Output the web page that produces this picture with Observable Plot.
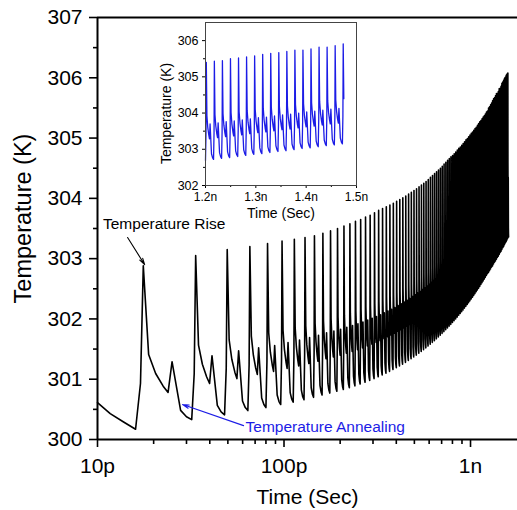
<!DOCTYPE html>
<html>
<head>
<meta charset="utf-8">
<script src="https://cdn.jsdelivr.net/npm/d3@7"></script>
<script src="https://cdn.jsdelivr.net/npm/@observablehq/plot@0.6"></script>
<style>
  html, body { margin: 0; padding: 0; background: #fff; }
  #chart { position: relative; width: 517px; height: 510px; overflow: hidden; font-family: 'Liberation Sans', Arial, sans-serif; }
  #inset { position: absolute; left: 150px; top: 10px; }
</style>
</head>
<body>
<div id="chart"><div id="main"></div><div id="inset"></div></div>
<script>
// ---- Data (times in ps, temperatures in K) ----
// lead-in decay before first pulse
const leadTimePs = [10, 11.7, 13.8];
const leadTemp = [300.61, 300.43, 300.29];

// start time of each heating cycle (ps)
const cycleStartPs = [16,32,48,64,80,96,112,128,144,160,176,192,208,224,240,256,272,288,304,320,336,352,368,384,400,416,432,448,464,480,496,512,528,544,560,576,592,608,624,640,656,672,688,704,720,736,752,768,784,800,816,832,848,864,880,896,912,928,944,960,976,992,1008,1024,1040,1056,1072,1088,1104,1120,1136,1152,1168,1184,1200,1216,1232,1248,1264,1280,1296,1312,1328,1344,1360,1376,1392,1408,1424,1440,1456,1472,1488,1504,1520,1536,1552,1568,1584];

// trough (start of cycle) temperature
const cycleLow = [300.17,300.33,300.41,300.48,300.53,300.58,300.62,300.66,300.70,300.74,300.77,300.80,300.83,300.86,300.89,300.92,300.95,300.98,301.01,301.04,301.07,301.10,301.13,301.16,301.19,301.22,301.25,301.28,301.31,301.34,301.37,301.40,301.43,301.46,301.49,301.52,301.55,301.58,301.61,301.64,301.67,301.70,301.73,301.76,301.79,301.82,301.85,301.88,301.91,301.94,301.97,302.00,302.03,302.06,302.09,302.12,302.15,302.18,302.21,302.24,302.27,302.30,302.33,302.36,302.39,302.42,302.45,302.48,302.51,302.54,302.57,302.60,302.63,302.66,302.69,302.72,302.75,302.77,302.80,302.83,302.86,302.88,302.91,302.94,302.96,302.99,303.02,303.04,303.07,303.10,303.12,303.15,303.18,303.20,303.23,303.26,303.28,303.31,303.34];
const finalTimePs = 1600;
const finalTemp = 303.36;

// main (temperature rise) peak of each cycle
const cycleBig = [302.88,303.05,303.15,303.20,303.25,303.29,303.32,303.35,303.38,303.42,303.46,303.50,303.54,303.58,303.62,303.65,303.69,303.72,303.76,303.80,303.83,303.86,303.89,303.92,303.95,303.98,304.01,304.04,304.07,304.10,304.13,304.16,304.19,304.22,304.25,304.28,304.31,304.35,304.38,304.41,304.44,304.47,304.50,304.53,304.57,304.60,304.63,304.66,304.69,304.71,304.74,304.77,304.80,304.83,304.85,304.88,304.91,304.94,304.97,304.99,305.02,305.05,305.08,305.10,305.13,305.16,305.18,305.21,305.24,305.27,305.29,305.32,305.35,305.37,305.40,305.43,305.45,305.50,305.52,305.55,305.58,305.62,305.65,305.67,305.70,305.74,305.74,305.77,305.82,305.82,305.86,305.91,305.93,305.96,305.99,306.01,306.04,306.06,306.08];

// dip before the secondary bump
const cycleMid = [300.78,300.93,301.01,301.08,301.13,301.18,301.22,301.26,301.30,301.34,301.37,301.40,301.43,301.46,301.49,301.52,301.55,301.58,301.61,301.64,301.67,301.70,301.73,301.76,301.79,301.82,301.85,301.88,301.91,301.94,301.97,302.00,302.03,302.06,302.09,302.12,302.15,302.18,302.21,302.24,302.27,302.30,302.33,302.36,302.39,302.42,302.45,302.48,302.51,302.54,302.57,302.60,302.63,302.66,302.69,302.72,302.75,302.78,302.81,302.84,302.87,302.90,302.93,302.96,302.99,303.02,303.05,303.08,303.11,303.14,303.17,303.20,303.23,303.26,303.29,303.32,303.35,303.37,303.40,303.43,303.46,303.48,303.51,303.54,303.56,303.59,303.62,303.64,303.67,303.70,303.72,303.75,303.78,303.80,303.83,303.86,303.88,303.91,303.94];

// secondary bump of each cycle
const cycleSmall = [301.29,301.39,301.47,301.52,301.56,301.61,301.65,301.69,301.73,301.77,301.80,301.83,301.86,301.89,301.92,301.95,301.98,302.01,302.04,302.07,302.10,302.13,302.16,302.19,302.22,302.25,302.28,302.31,302.34,302.37,302.40,302.43,302.46,302.49,302.52,302.55,302.58,302.61,302.64,302.67,302.70,302.73,302.76,302.79,302.82,302.85,302.88,302.91,302.94,302.97,303.00,303.03,303.06,303.09,303.12,303.15,303.18,303.21,303.24,303.27,303.29,303.32,303.34,303.37,303.40,303.43,303.46,303.49,303.52,303.55,303.58,303.61,303.64,303.67,303.70,303.73,303.76,303.78,303.81,303.84,303.87,303.89,303.92,303.95,303.97,304.00,304.03,304.05,304.08,304.11,304.13,304.16,304.19,304.21,304.24,304.27,304.29,304.32,304.35];

// pulse shape read from the first cycles: offset (ps) after cycle start,
// which key values it lies between, and how far
const shapeOffsetPs = [0, 1.0, 1.6, 2.8, 4.5, 6.5, 7.9, 9.1, 11.9, 14.0];
const shapeFrom     = ["low","low","big","mid","mid","mid","mid","small","next","next"];
const shapeTo       = ["low","big","big","big","big","big","mid","small","small","small"];
const shapeFrac     = [0, 0.28, 0, 0.30, 0.15, 0.05, 0, 0, 0.16, 0.05];

// axes
const yMajor = [300, 301, 302, 303, 304, 305, 306, 307];
const yMinor = [300.5, 301.5, 302.5, 303.5, 304.5, 305.5, 306.5];
const xMajor = [1e-11, 1e-10, 1e-9];
const xMajorLabels = ["10p", "100p", "1n"];
const xMinor = [2e-11,3e-11,4e-11,5e-11,6e-11,7e-11,8e-11,9e-11,2e-10,3e-10,4e-10,5e-10,6e-10,7e-10,8e-10,9e-10];

const insetYMajor = [302, 303, 304, 305, 306];
const insetYMinor = [302.5, 303.5, 304.5, 305.5];
const insetXMajor = [1.2e-9, 1.3e-9, 1.4e-9, 1.5e-9];
const insetXLabels = ["1.2n", "1.3n", "1.4n", "1.5n"];
const insetXMinor = [1.25e-9, 1.35e-9, 1.45e-9];
const insetWindowPs = [1200, 1474.8];

// annotations
const riseLabel = {t: 10.7e-12, T: 303.57, text: "Temperature Rise"};
const riseArrow = {t1: 14.5e-12, T1: 303.35, t2: 17.9e-12, T2: 302.9};
const annealLabel = {t: 62.2e-12, T: 300.2, text: "Temperature Annealing"};
const annealArrow = {t1: 60.7e-12, T1: 300.23, t2: 28.6e-12, T2: 300.58};

// ---- Build the series ----
const series = [];
leadTimePs.forEach((t, i) => series.push({t: t * 1e-12, T: leadTemp[i]}));
cycleStartPs.forEach((s, k) => {
  const key = {low: cycleLow[k], big: cycleBig[k], mid: cycleMid[k], small: cycleSmall[k],
               next: k + 1 < cycleLow.length ? cycleLow[k + 1] : finalTemp};
  shapeOffsetPs.forEach((o, j) => {
    const a = key[shapeFrom[j]], b = key[shapeTo[j]];
    series.push({t: (s + o) * 1e-12, T: a + shapeFrac[j] * (b - a)});
  });
});
series.push({t: finalTimePs * 1e-12, T: finalTemp});

const insetSeries = series.filter(d => d.t >= insetWindowPs[0] * 1e-12 - 1e-16 && d.t <= insetWindowPs[1] * 1e-12 + 1e-16);

const font = "'Liberation Sans', Arial, sans-serif";
const blue = "#1c1ce6";
const intFmt = d3.format("d");

const main = Plot.plot({
  width: 517, height: 510,
  marginLeft: 97, marginRight: 0, marginTop: 17, marginBottom: 71,
  x: {type: "log", domain: [1e-11, 1.786e-9]},
  y: {domain: [300, 307]},
  style: {fontFamily: font, fontSize: "21px", background: "transparent", color: "#000"},
  marks: [
    Plot.line(series, {x: "t", y: "T", stroke: "#000", strokeWidth: 1.6}),
    Plot.axisY(yMajor, {tickSize: 8, tickPadding: 7, fontSize: 21, strokeWidth: 1.6, label: null, tickFormat: intFmt}),
    Plot.axisY(yMinor, {tickSize: 4, strokeWidth: 1.6, tickFormat: () => "", label: null}),
    Plot.axisX(xMajor, {tickSize: 8, tickPadding: 11, fontSize: 21, strokeWidth: 1.6, label: null,
      tickFormat: d => xMajorLabels[xMajor.indexOf(d)]}),
    Plot.axisX(xMinor, {tickSize: 5, strokeWidth: 1.6, tickFormat: () => "", label: null}),
    Plot.ruleX([1e-11], {strokeWidth: 2}),
    Plot.ruleY([300], {strokeWidth: 2}),
    Plot.ruleY([307], {strokeWidth: 2}),
    Plot.text(["Temperature (K)"], {frameAnchor: "left", rotate: -90, dx: -74, dy: -10, fontSize: 23.5, lineAnchor: "middle", textAnchor: "middle"}),
    Plot.text(["Time (Sec)"], {frameAnchor: "bottom", dy: 58, fontSize: 21, lineAnchor: "middle"}),
    Plot.text([riseLabel], {x: "t", y: "T", text: "text", textAnchor: "start", fontSize: 15.5, fill: "#000"}),
    Plot.arrow([riseArrow], {x1: "t1", y1: "T1", x2: "t2", y2: "T2", stroke: "#000", strokeWidth: 1.1, headAngle: 30, headLength: 9}),
    Plot.text([annealLabel], {x: "t", y: "T", text: "text", textAnchor: "start", fontSize: 15.5, fill: blue}),
    Plot.arrow([annealArrow], {x1: "t1", y1: "T1", x2: "t2", y2: "T2", stroke: blue, strokeWidth: 1.1, headAngle: 30, headLength: 9})
  ]
});
document.getElementById("main").appendChild(main);

const inset = Plot.plot({
  width: 220, height: 215,
  marginLeft: 55, marginRight: 14, marginTop: 12, marginBottom: 40,
  x: {domain: [1.2e-9, 1.5e-9]},
  y: {domain: [302, 306.5]},
  style: {fontFamily: font, fontSize: "12px", background: "transparent", color: "#000", overflow: "visible"},
  marks: [
    Plot.frame({fill: "#fff", stroke: "none"}),
    Plot.line(insetSeries, {x: "t", y: "T", stroke: blue, strokeWidth: 1.3}),
    Plot.axisY(insetYMajor, {tickSize: 3, tickPadding: 4, fontSize: 12.5, label: null, tickFormat: intFmt}),
    Plot.axisY(insetYMinor, {tickSize: 2, tickFormat: () => "", label: null}),
    Plot.axisX(insetXMajor, {tickSize: 3, tickPadding: 4, fontSize: 12, label: null,
      tickFormat: d => insetXLabels[insetXMajor.indexOf(d)]}),
    Plot.axisX(insetXMinor, {tickSize: 2, tickFormat: () => "", label: null}),
    Plot.frame({stroke: "#444", strokeWidth: 1}),
    Plot.text(["Temperature (K)"], {frameAnchor: "left", rotate: -90, dx: -39, dy: 9.5, fontSize: 14, lineAnchor: "middle", textAnchor: "middle"}),
    Plot.text(["Time (Sec)"], {frameAnchor: "bottom", dy: 28, fontSize: 14, lineAnchor: "middle"})
  ]
});
document.getElementById("inset").appendChild(inset);
</script>
</body>
</html>
